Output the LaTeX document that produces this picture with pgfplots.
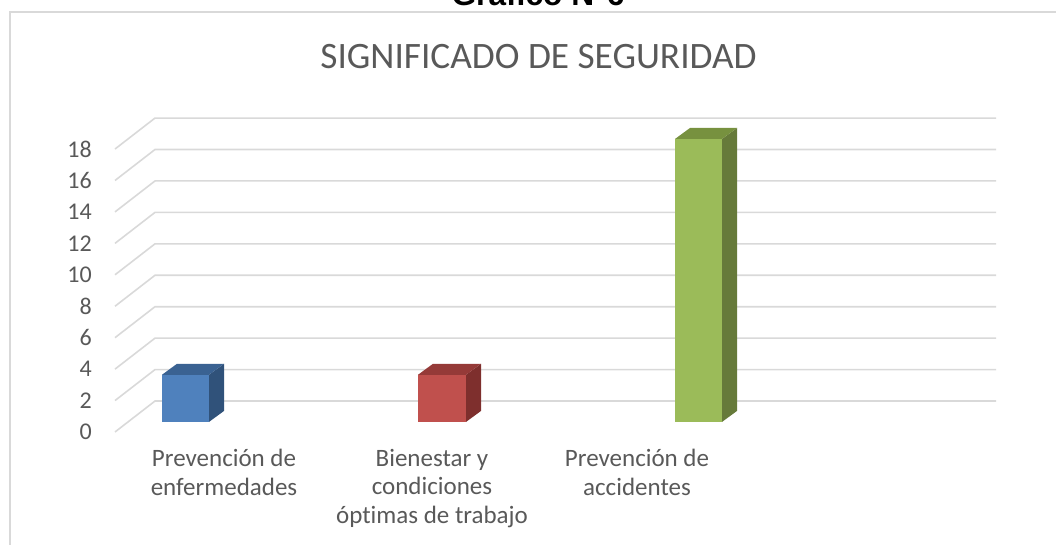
\documentclass[border=0pt]{standalone}
\usepackage{pgfplots}
\pgfplotsset{compat=1.18}
\usepackage{fontspec}
\setmainfont{Carlito}[RawFeature=-liga]
\newfontfamily\arialfont{Liberation Sans}
\definecolor{gridc}{HTML}{D9D9D9}
\definecolor{txt}{HTML}{595959}
\definecolor{bfront}{HTML}{4F81BD}
\definecolor{bside}{HTML}{30527A}
\definecolor{btop}{HTML}{3A6292}
\definecolor{rfront}{HTML}{C0504D}
\definecolor{rside}{HTML}{7E2F2D}
\definecolor{rtop}{HTML}{953A38}
\definecolor{gfront}{HTML}{9BBB59}
\definecolor{gside}{HTML}{667A3A}
\definecolor{gtop}{HTML}{77913F}
\begin{document}
\begin{tikzpicture}
\useasboundingbox (0,0) rectangle (1056pt,545pt);
\begin{axis}[at={(0,0)}, anchor=south west, scale only axis,
  width=1056pt, height=545pt,
  xmin=0, xmax=1056, ymin=-7.188, ymax=27.481,
  axis line style={draw=none}, major tick length=0,
  xtick=\empty, ytick={0,2,...,18},
  /pgf/number format/assume math mode=true,
  yticklabel style={anchor=east, xshift=92pt, inner sep=0pt,
    font=\fontsize{24}{24}\selectfont, text=txt},
  clip=false]
% frame
\addplot[gridc, line width=1.2pt] coordinates {(10,-7.188) (10,26.72) (1056,26.72)};
% gridlines
\addplot[gridc, line width=1.6pt] coordinates {(115,0) (155,1.97) (996,1.97)};
\addplot[gridc, line width=1.6pt] coordinates {(115,2) (155,3.97) (996,3.97)};
\addplot[gridc, line width=1.6pt] coordinates {(115,4) (155,5.97) (996,5.97)};
\addplot[gridc, line width=1.6pt] coordinates {(115,6) (155,7.97) (996,7.97)};
\addplot[gridc, line width=1.6pt] coordinates {(115,8) (155,9.97) (996,9.97)};
\addplot[gridc, line width=1.6pt] coordinates {(115,10) (155,11.97) (996,11.97)};
\addplot[gridc, line width=1.6pt] coordinates {(115,12) (155,13.97) (996,13.97)};
\addplot[gridc, line width=1.6pt] coordinates {(115,14) (155,15.97) (996,15.97)};
\addplot[gridc, line width=1.6pt] coordinates {(115,16) (155,17.97) (996,17.97)};
\addplot[gridc, line width=1.6pt] coordinates {(115,18) (155,19.97) (996,19.97)};
% bar 1: Prevencion de enfermedades = 3
\addplot[fill=bfront, draw=none] coordinates {(162,0.64) (209,0.64) (209,3.64) (162,3.64)} -- cycle;
\addplot[fill=bside, draw=none] coordinates {(209,0.64) (224,1.34) (224,4.34) (209,3.64)} -- cycle;
\addplot[fill=btop, draw=none] coordinates {(162,3.64) (209,3.64) (224,4.34) (177,4.34)} -- cycle;
% bar 2: Bienestar = 3
\addplot[fill=rfront, draw=none] coordinates {(418,0.64) (466,0.64) (466,3.64) (418,3.64)} -- cycle;
\addplot[fill=rside, draw=none] coordinates {(466,0.64) (481,1.34) (481,4.34) (466,3.64)} -- cycle;
\addplot[fill=rtop, draw=none] coordinates {(418,3.64) (466,3.64) (481,4.34) (433,4.34)} -- cycle;
% bar 3: Prevencion de accidentes = 18
\addplot[fill=gfront, draw=none] coordinates {(675,0.64) (722,0.64) (722,18.64) (675,18.64)} -- cycle;
\addplot[fill=gside, draw=none] coordinates {(722,0.64) (737,1.34) (737,19.34) (722,18.64)} -- cycle;
\addplot[fill=gtop, draw=none] coordinates {(675,18.64) (722,18.64) (737,19.34) (690,19.34)} -- cycle;
% titles
\node[anchor=base, inner sep=0pt, font=\arialfont\bfseries\fontsize{31.7}{32}\selectfont] at (axis cs:538,27.15) {Gráfico N°6};
\node[anchor=center, inner sep=0pt, text=txt, font=\fontsize{37.3}{40}\selectfont] at (axis cs:538.5,23.86) {SIGNIFICADO DE SEGURIDAD};
% category labels
\node[anchor=north, inner sep=0pt, align=center, text=txt, font=\fontsize{25}{28.5}\selectfont] at (axis cs:224,-1.08) {Prevención de\\enfermedades};
\node[anchor=north, inner sep=0pt, align=center, text=txt, font=\fontsize{25}{28.5}\selectfont] at (axis cs:432,-1.08) {Bienestar y\\condiciones\\óptimas de trabajo};
\node[anchor=north, inner sep=0pt, align=center, text=txt, font=\fontsize{25}{28.5}\selectfont] at (axis cs:637,-1.08) {Prevención de\\accidentes};
\end{axis}
\end{tikzpicture}
\end{document}
